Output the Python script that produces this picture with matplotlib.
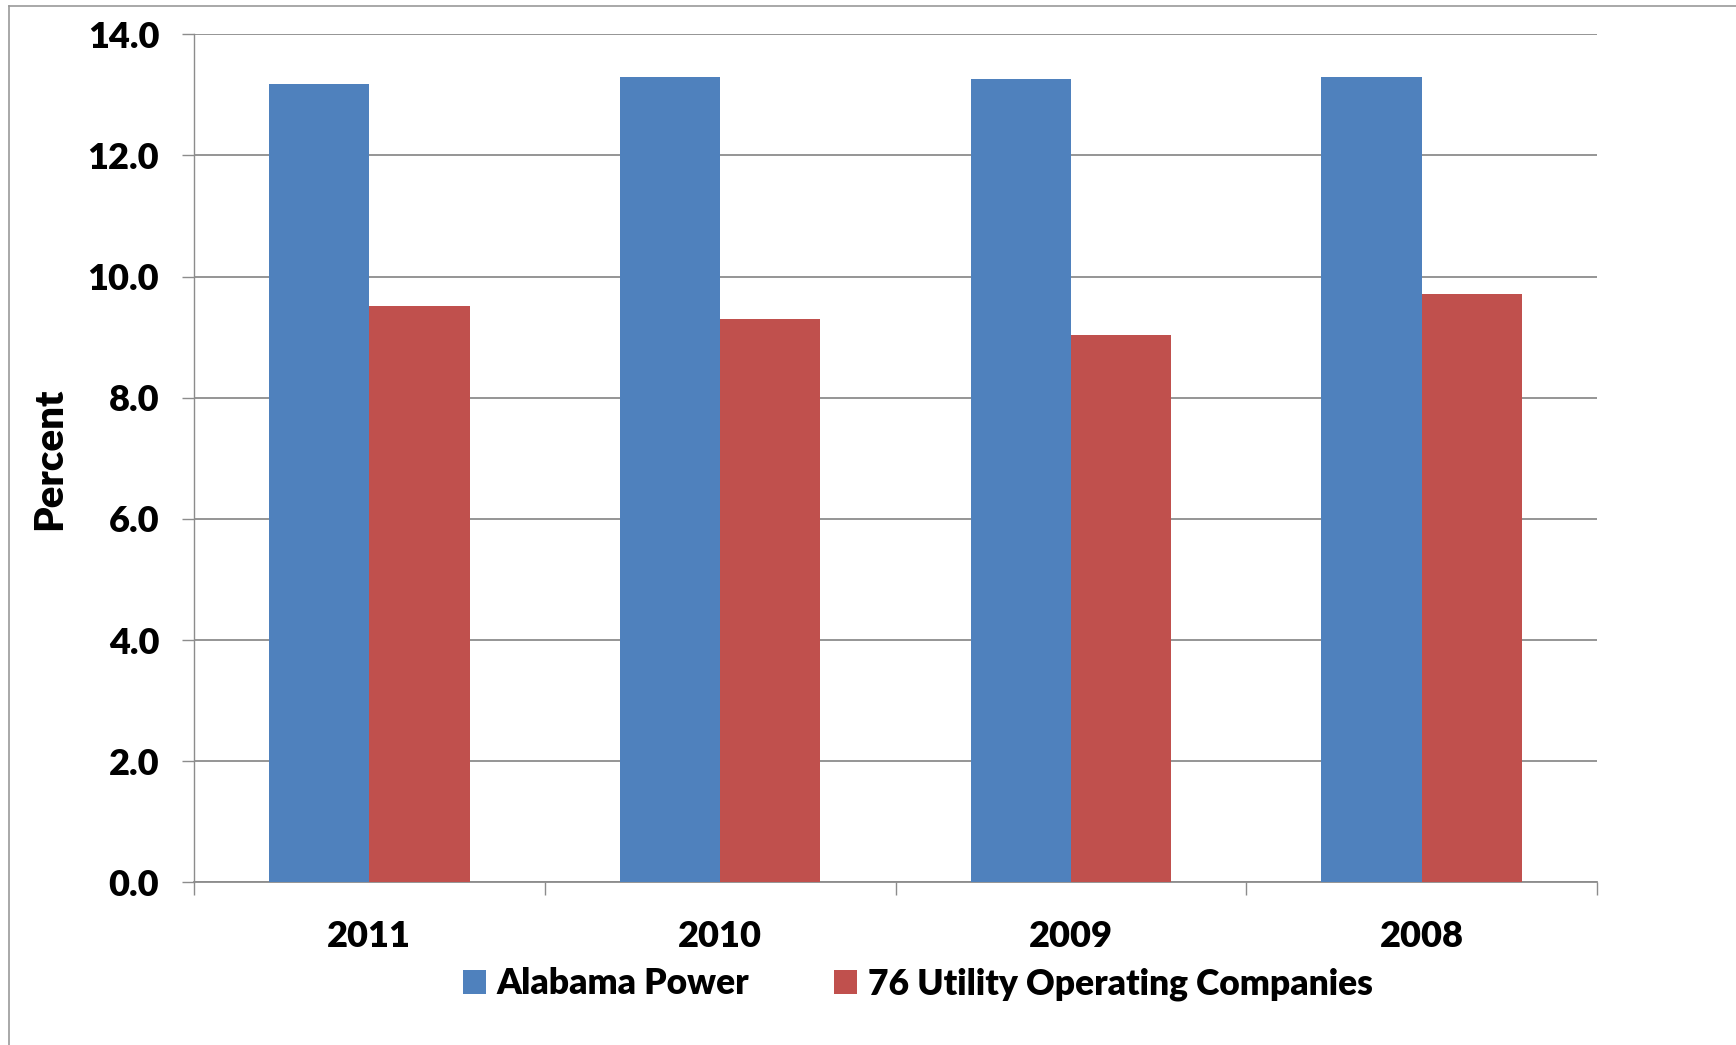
import numpy as np
import matplotlib.pyplot as plt
from matplotlib.lines import Line2D

years = ["2011", "2010", "2009", "2008"]
alabama_power = [13.18, 13.30, 13.27, 13.30]
utility_76 = [9.52, 9.30, 9.04, 9.72]

blue = "#4F81BD"
red = "#C0504D"
plt.rcParams["font.family"] = ["Lato", "DejaVu Sans"]
plt.rcParams["font.weight"] = "heavy"

fig = plt.figure(figsize=(17.36, 10.45), dpi=100)
ax = fig.add_axes([194 / 1736, 1 - 882.4 / 1045, 1403 / 1736, (882.4 - 34.3) / 1045])

x = np.arange(len(years))
w = 1 / 3.5  # gap width 150%
ax.bar(x - w / 2, alabama_power, w, color=blue, label="Alabama Power", zorder=3)
ax.bar(x + w / 2, utility_76, w, color=red, label="76 Utility Operating Companies", zorder=3)

ax.set_xlim(-0.5, len(years) - 0.5)
ax.set_ylim(0, 14)
ax.set_yticks(np.arange(0, 14.1, 2))
ax.set_yticklabels([f"{v:.1f}" for v in np.arange(0, 14.1, 2)])
ax.yaxis.grid(True, color="#8c8c8c", linewidth=1.3, zorder=0)

ax.set_xticks(x)
ax.set_xticklabels(years)
ax.set_xticks(np.arange(-0.5, len(years)), minor=True)
ax.tick_params(axis="x", which="major", length=0, pad=27, labelsize=26)
ax.tick_params(axis="x", which="minor", length=9, color="#8c8c8c", width=1)
ax.tick_params(axis="y", length=9, color="#8c8c8c", width=1, pad=16, labelsize=26)

for s in ["top", "right"]:
    ax.spines[s].set_visible(False)
for s in ["left", "bottom"]:
    ax.spines[s].set_color("#8c8c8c")
ax.spines["left"].set_linewidth(1)
ax.spines["bottom"].set_linewidth(1.3)

ax.set_ylabel("Percent", fontsize=29, fontweight="heavy", labelpad=14)

handles, labels = ax.get_legend_handles_labels()
fig.legend(handles, labels, loc="center", bbox_to_anchor=(918 / 1736, 1 - 984 / 1045),
           ncol=2, frameon=False, fontsize=25.5, handlelength=0.65, handleheight=0.65,
           handletextpad=0.3, columnspacing=2.4)

# outer border (left and top only visible)
fig.add_artist(Line2D([9 / 1736, 9 / 1736], [0, 1 - 6 / 1045], transform=fig.transFigure,
                      color="#999999", linewidth=1.2))
fig.add_artist(Line2D([9 / 1736, 1], [1 - 6 / 1045, 1 - 6 / 1045], transform=fig.transFigure,
                      color="#999999", linewidth=1.2))

fig.savefig("out.png", dpi=100)
